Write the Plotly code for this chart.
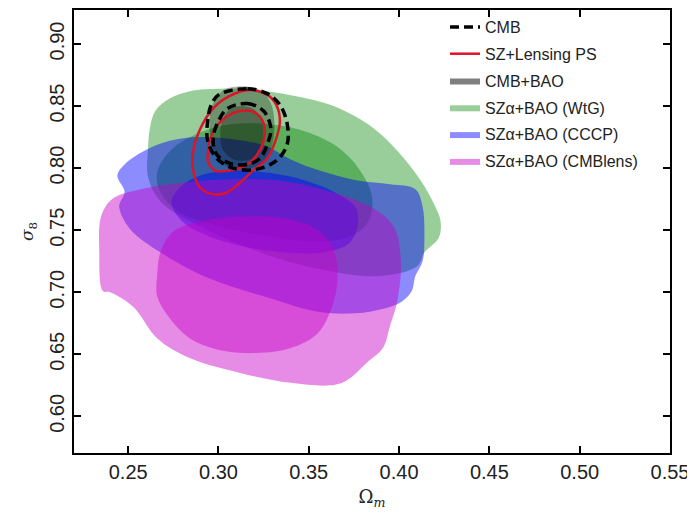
import plotly.graph_objects as go

# ---------------- data ----------------
# SZalpha+BAO (WtG) 95% and 68% regions
wtg_outer_x = [0.262, 0.265, 0.273, 0.284, 0.302, 0.321, 0.349, 0.367, 0.386, 0.399, 0.412, 0.420, 0.423, 0.422, 0.414, 0.410, 0.389, 0.362, 0.329, 0.290, 0.268, 0.261, 0.261]
wtg_outer_y = [0.832, 0.846, 0.856, 0.862, 0.864, 0.863, 0.856, 0.848, 0.832, 0.814, 0.790, 0.769, 0.757, 0.744, 0.732, 0.721, 0.713, 0.717, 0.729, 0.753, 0.773, 0.793, 0.816]
wtg_inner_x = [0.268, 0.266, 0.272, 0.283, 0.301, 0.323, 0.345, 0.365, 0.378, 0.385, 0.383, 0.373, 0.353, 0.329, 0.301, 0.279]
wtg_inner_y = [0.780, 0.796, 0.812, 0.824, 0.834, 0.836, 0.831, 0.818, 0.799, 0.777, 0.757, 0.745, 0.741, 0.745, 0.753, 0.764]

# SZalpha+BAO (CCCP)
cccp_outer_x = [0.244, 0.248, 0.259, 0.273, 0.290, 0.309, 0.326, 0.340, 0.356, 0.377, 0.395, 0.409, 0.413, 0.414, 0.413, 0.409, 0.407, 0.401, 0.392, 0.376, 0.356, 0.329, 0.295, 0.268, 0.251, 0.245, 0.248]
cccp_outer_y = [0.794, 0.803, 0.814, 0.822, 0.825, 0.823, 0.818, 0.807, 0.798, 0.790, 0.787, 0.783, 0.769, 0.745, 0.725, 0.713, 0.701, 0.692, 0.687, 0.683, 0.684, 0.695, 0.711, 0.732, 0.751, 0.769, 0.781]
cccp_inner_x = [0.274, 0.279, 0.290, 0.309, 0.329, 0.348, 0.365, 0.376, 0.377, 0.372, 0.358, 0.337, 0.317, 0.295, 0.280]
cccp_inner_y = [0.773, 0.785, 0.794, 0.798, 0.796, 0.790, 0.780, 0.768, 0.753, 0.739, 0.732, 0.732, 0.736, 0.745, 0.757]

# SZalpha+BAO (CMBlens)
lens_outer_x = [0.236, 0.234, 0.235, 0.241, 0.257, 0.279, 0.306, 0.334, 0.362, 0.384, 0.397, 0.401, 0.399, 0.395, 0.391, 0.382, 0.371, 0.362, 0.340, 0.312, 0.284, 0.266, 0.253, 0.240]
lens_outer_y = [0.701, 0.733, 0.761, 0.775, 0.783, 0.788, 0.791, 0.790, 0.781, 0.769, 0.753, 0.725, 0.693, 0.673, 0.655, 0.643, 0.629, 0.625, 0.627, 0.635, 0.647, 0.663, 0.688, 0.700]
lens_inner_x = [0.266, 0.268, 0.275, 0.290, 0.312, 0.334, 0.353, 0.363, 0.366, 0.363, 0.355, 0.340, 0.321, 0.302, 0.284, 0.272, 0.266]
lens_inner_y = [0.713, 0.733, 0.749, 0.757, 0.761, 0.760, 0.752, 0.737, 0.713, 0.689, 0.667, 0.655, 0.651, 0.653, 0.663, 0.681, 0.697]

# CMB+BAO
cmbbao_outer_x = [0.313, 0.323, 0.329, 0.331, 0.329, 0.323, 0.313, 0.303, 0.297, 0.295, 0.297, 0.303]
cmbbao_outer_y = [0.866, 0.863, 0.852, 0.834, 0.815, 0.803, 0.799, 0.803, 0.815, 0.834, 0.852, 0.863]
cmbbao_inner_x = [0.313, 0.320, 0.324, 0.325, 0.324, 0.319, 0.313, 0.307, 0.302, 0.301, 0.302, 0.306]
cmbbao_inner_y = [0.850, 0.847, 0.838, 0.827, 0.816, 0.808, 0.806, 0.808, 0.816, 0.827, 0.838, 0.847]

# CMB (dashed contours)
cmb_outer_x = [0.300, 0.316, 0.327, 0.334, 0.338, 0.338, 0.332, 0.321, 0.308, 0.299, 0.294, 0.294, 0.296]
cmb_outer_y = [0.859, 0.864, 0.860, 0.851, 0.836, 0.819, 0.806, 0.799, 0.800, 0.808, 0.822, 0.838, 0.851]
cmb_inner_x = [0.305, 0.316, 0.325, 0.329, 0.327, 0.323, 0.316, 0.306, 0.299, 0.297, 0.300]
cmb_inner_y = [0.848, 0.852, 0.846, 0.832, 0.819, 0.808, 0.803, 0.804, 0.811, 0.824, 0.838]

# SZ+Lensing PS (red contours)
szl_outer_x = [0.286, 0.290, 0.297, 0.306, 0.317, 0.327, 0.332, 0.334, 0.332, 0.327, 0.319, 0.311, 0.304, 0.297, 0.290, 0.286]
szl_outer_y = [0.814, 0.832, 0.848, 0.858, 0.863, 0.859, 0.851, 0.838, 0.824, 0.808, 0.798, 0.787, 0.780, 0.779, 0.784, 0.798]
szl_inner_x = [0.294, 0.295, 0.299, 0.305, 0.312, 0.320, 0.325, 0.325, 0.321, 0.315, 0.306, 0.298, 0.294]
szl_inner_y = [0.808, 0.822, 0.834, 0.842, 0.846, 0.845, 0.836, 0.822, 0.810, 0.802, 0.798, 0.798, 0.806]

x_ticks = [0.25, 0.30, 0.35, 0.40, 0.45, 0.50, 0.55]
y_ticks = [0.60, 0.65, 0.70, 0.75, 0.80, 0.85, 0.90]

# ---------------- figure ----------------
GREEN = "rgba(0,130,0,0.40)"
BLUE = "rgba(0,0,255,0.45)"
PINK = "rgba(200,0,200,0.45)"
GRAY = "rgba(0,0,0,0.28)"
GRAY_KEY = "rgba(0,0,0,0.50)"
RED = "rgb(220,20,40)"

fig = go.Figure()


def closed(v):
    return list(v) + [v[0]]


def region(xs, ys, color, name, show, rank):
    fig.add_trace(go.Scatter(
        x=closed(xs), y=closed(ys), mode="lines", fill="toself", fillcolor=color,
        line=dict(width=0, shape="spline", smoothing=1.0, color=color),
        name=name, showlegend=show, legendgroup=name, legendrank=rank,
        hoverinfo="skip"))


def contour(xs, ys, color, width, dash, name, show, rank):
    fig.add_trace(go.Scatter(
        x=closed(xs), y=closed(ys), mode="lines",
        line=dict(width=width, color=color, dash=dash, shape="spline", smoothing=1.0),
        name=name, showlegend=show, legendgroup=name, legendrank=rank,
        hoverinfo="skip"))


region(wtg_outer_x, wtg_outer_y, GREEN, "SZα+BAO (WtG)", True, 4)
region(wtg_inner_x, wtg_inner_y, GREEN, "SZα+BAO (WtG)", False, 4)
region(cccp_outer_x, cccp_outer_y, BLUE, "SZα+BAO (CCCP)", True, 5)
region(cccp_inner_x, cccp_inner_y, BLUE, "SZα+BAO (CCCP)", False, 5)
region(lens_outer_x, lens_outer_y, PINK, "SZα+BAO (CMBlens)", True, 6)
region(lens_inner_x, lens_inner_y, PINK, "SZα+BAO (CMBlens)", False, 6)
region(cmbbao_outer_x, cmbbao_outer_y, GRAY, "CMB+BAO", False, 3)
region(cmbbao_inner_x, cmbbao_inner_y, GRAY, "CMB+BAO", False, 3)
# legend key for CMB+BAO (no data, legend swatch only)
fig.add_trace(go.Scatter(x=[None], y=[None], mode="lines", fill="toself",
                         fillcolor=GRAY_KEY, line=dict(width=0, color=GRAY_KEY),
                         name="CMB+BAO", legendgroup="CMB+BAO", legendrank=3,
                         showlegend=True, hoverinfo="skip"))
contour(szl_outer_x, szl_outer_y, RED, 2.5, "solid", "SZ+Lensing PS", True, 2)
contour(szl_inner_x, szl_inner_y, RED, 2.5, "solid", "SZ+Lensing PS", False, 2)
contour(cmb_outer_x, cmb_outer_y, "black", 3.5, "9px,5px", "CMB", True, 1)
contour(cmb_inner_x, cmb_inner_y, "black", 3.5, "9px,5px", "CMB", False, 1)

axis_common = dict(
    showline=True, linecolor="black", linewidth=1.5, mirror="ticks",
    ticks="inside", ticklen=7, tickwidth=1.5, tickcolor="black",
    showgrid=False, zeroline=False,
    tickfont=dict(family="Liberation Sans, Arial, sans-serif", size=20, color="#222"),
)

fig.update_xaxes(range=[0.22, 0.55], tickvals=x_ticks,
                 ticktext=[f"{v:.2f}" for v in x_ticks],
                 title=dict(text="Ω<sub><i>m</i></sub>", standoff=9,
                            font=dict(family="DejaVu Serif, serif", size=18, color="#222")),
                 **axis_common)
fig.update_yaxes(range=[0.5705, 0.9274], tickvals=y_ticks,
                 ticktext=[f"{v:.2f}" for v in y_ticks], tickangle=-90,
                 title=dict(text="<i>σ</i><sub>8</sub>", standoff=8,
                            font=dict(family="DejaVu Serif, serif", size=17, color="#222")),
                 **axis_common)

# the page adds an 8px body margin, so the figure is sized to fit the window
fig.update_layout(
    width=687, height=507,
    margin=dict(l=66, r=25, t=0, b=62),
    paper_bgcolor="white", plot_bgcolor="white",
    showlegend=True,
    legend=dict(x=0.6225, y=1.0, xanchor="left", yanchor="top",
                bgcolor="rgba(0,0,0,0)", traceorder="grouped", tracegroupgap=3,
                font=dict(family="Liberation Sans, Arial, sans-serif", size=16, color="#222")),
)

fig.write_html("out.html")
